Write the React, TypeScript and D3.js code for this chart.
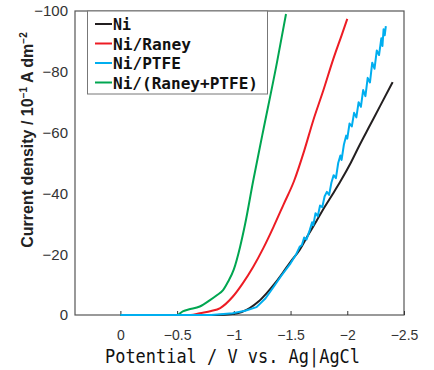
import { useEffect, useRef } from "react";
import * as d3 from "d3";

// potential (V vs Ag|AgCl) and current density (10^-1 A dm^-2)
const niV = [0, -0.5, -0.85, -0.99, -1.07, -1.14, -1.22, -1.29, -1.36, -1.43, -1.5, -1.58, -1.65, -1.73, -1.8, -1.875, -1.94, -2.03, -2.11, -2.2, -2.29, -2.4];
const niI = [0, 0, 0, -0.3, -1, -2.3, -4.5, -7.2, -10.3, -13.8, -17.5, -21.4, -26, -31, -35.5, -40, -44, -50, -56, -62.4, -68.8, -76.6];

const raneyV = [0, -0.5, -0.62, -0.7, -0.8, -0.88, -0.99, -1.08, -1.17, -1.26, -1.35, -1.44, -1.53, -1.62, -1.7, -1.79, -1.875, -1.95, -2.0];
const raneyI = [0, 0, 0, -0.6, -1.3, -2.3, -6, -10.5, -15.8, -22, -29, -36.5, -44, -54, -64, -74, -84, -92, -97.4];

const ptfeV = [0, -0.8, -0.99, -1.1, -1.2, -1.28, -1.35, -1.42, -1.5, -1.55, -1.58, -1.6, -1.62, -1.64, -1.67, -1.69, -1.7, -1.72, -1.74, -1.76, -1.78, -1.8, -1.82, -1.84, -1.86, -1.88, -1.9, -1.92, -1.94, -1.95, -1.97, -1.99, -2.0, -2.02, -2.04, -2.06, -2.08, -2.1, -2.12, -2.14, -2.16, -2.18, -2.2, -2.22, -2.24, -2.26, -2.28, -2.3, -2.31, -2.32, -2.33, -2.34];
const ptfeI = [0, 0, -0.6, -1.4, -2.6, -5.5, -9.2, -13, -17, -20, -22.4, -23, -25.5, -24.8, -28, -30.5, -29.5, -33.5, -32.5, -36, -35.5, -39, -40.5, -39.5, -43.5, -46, -45, -50, -52.5, -51, -56, -59, -58, -63, -62, -66.5, -65, -70, -68.5, -74, -72, -78, -76.5, -83, -81, -87, -85.5, -91, -88.5, -94, -92, -95];

const bothV = [0, -0.5, -0.55, -0.6, -0.7, -0.79, -0.85, -0.905, -0.95, -1.0, -1.055, -1.1, -1.17, -1.25, -1.38, -1.46];
const bothI = [0, 0, -1.2, -1.8, -2.8, -4.9, -6.5, -8.2, -11, -15, -22.4, -30, -44, -59, -83, -99];

const seriesNames = ["Ni", "Ni/Raney", "Ni/PTFE", "Ni/(Raney+PTFE)"];
const seriesColors = ["#231f20", "#ed1c24", "#00aeef", "#00a651"];

const xTicks = [0, -0.5, -1, -1.5, -2, -2.5];
const xTickLabels = ["0", "\u22120.5", "\u22121", "\u22121.5", "\u22122", "\u22122.5"];
const yTicks = [0, -20, -40, -60, -80, -100];

export default function App() {
  const ref = useRef<SVGSVGElement>(null);

  useEffect(() => {
    const svg = d3.select(ref.current);
    svg.selectAll("*").remove();

    const left = 75, right = 404, top = 11, bottom = 315;
    const x = d3.scaleLinear().domain([0.4, -2.5]).range([left, right]);
    const y = d3.scaleLinear().domain([0, -100]).range([bottom, top]);

    // frame
    svg.append("rect")
      .attr("x", left).attr("y", top)
      .attr("width", right - left).attr("height", bottom - top)
      .attr("fill", "none").attr("stroke", "#555").attr("stroke-width", 1.2);

    // x ticks point inward
    const xAxis = d3.axisBottom(x).tickValues(xTicks).tickSizeInner(-4).tickSizeOuter(0)
      .tickFormat((d, i) => xTickLabels[i]);
    const gx = svg.append("g").attr("transform", `translate(0,${bottom})`).call(xAxis);
    gx.select(".domain").remove();
    gx.selectAll("line").attr("stroke", "#333");
    gx.selectAll("text")
      .attr("y", 15)
      .attr("font-family", "'Liberation Sans Narrow', 'Liberation Sans', sans-serif")
      .attr("font-size", 14).attr("fill", "#333");

    const yAxis = d3.axisLeft(y).tickValues(yTicks).tickSize(0)
      .tickFormat((d) => (d === 0 ? "0" : "\u2212" + Math.abs(+d)));
    const gy = svg.append("g").attr("transform", `translate(${left},0)`).call(yAxis);
    gy.select(".domain").remove();
    gy.selectAll("text")
      .attr("x", -7)
      .attr("font-family", "'Liberation Sans Narrow', 'Liberation Sans', sans-serif")
      .attr("font-size", 15).attr("fill", "#333");

    const smooth = d3.line<[number, number]>()
      .x((d) => x(d[0]))
      .y((d) => y(d[1]))
      .curve(d3.curveMonotoneX);
    const jagged = d3.line<[number, number]>()
      .x((d) => x(d[0]))
      .y((d) => y(d[1]));

    const all = [
      { pts: d3.zip(niV, niI), color: seriesColors[0], gen: smooth },
      { pts: d3.zip(raneyV, raneyI), color: seriesColors[1], gen: smooth },
      { pts: d3.zip(bothV, bothI), color: seriesColors[3], gen: smooth },
      { pts: d3.zip(ptfeV, ptfeI), color: seriesColors[2], gen: jagged },
    ];
    all.forEach((s) => {
      svg.append("path")
        .datum(s.pts as [number, number][])
        .attr("fill", "none")
        .attr("stroke", s.color)
        .attr("stroke-width", 2)
        .attr("stroke-linejoin", "round")
        .attr("d", s.gen);
    });

    // legend
    const lg = svg.append("g");
    lg.append("rect")
      .attr("x", 87.5).attr("y", top).attr("width", 180).attr("height", 83)
      .attr("fill", "white").attr("stroke", "#777").attr("stroke-width", 1);
    const legendWidths = [18, 78, 68, 145];
    seriesNames.forEach((name, i) => {
      const yy = 24 + i * 19.5;
      lg.append("line")
        .attr("x1", 95).attr("x2", 112).attr("y1", yy).attr("y2", yy)
        .attr("stroke", seriesColors[i]).attr("stroke-width", 2);
      lg.append("text")
        .attr("x", 113).attr("y", yy + 6)
        .attr("font-family", "'DejaVu Sans Mono', monospace")
        .attr("font-weight", "bold").attr("font-size", 16)
        .attr("textLength", legendWidths[i]).attr("lengthAdjust", "spacingAndGlyphs")
        .attr("fill", "#111")
        .text(name);
    });

    // axis titles
    svg.append("text")
      .attr("x", 105).attr("y", 363)
      .attr("font-family", "'DejaVu Sans Mono', monospace")
      .attr("font-size", 20).attr("fill", "#111")
      .attr("textLength", 255).attr("lengthAdjust", "spacingAndGlyphs")
      .text("Potential / V vs. Ag|AgCl");

    const yt = svg.append("text")
      .attr("transform", "translate(33,140) rotate(-90)")
      .attr("text-anchor", "middle")
      .attr("font-family", "'Liberation Sans', Arial, sans-serif")
      .attr("font-weight", "bold").attr("font-size", 16).attr("fill", "#222");
    yt.append("tspan").text("Current density / 10");
    yt.append("tspan").attr("dy", -6).attr("font-size", 10).text("\u22121");
    yt.append("tspan").attr("dy", 6).text(" A dm");
    yt.append("tspan").attr("dy", -6).attr("font-size", 10).text("\u22122");
  }, []);

  return (
    <svg
      ref={ref}
      width={434}
      height={370}
      style={{ position: "absolute", left: 0, top: 0, background: "white" }}
    />
  );
}
